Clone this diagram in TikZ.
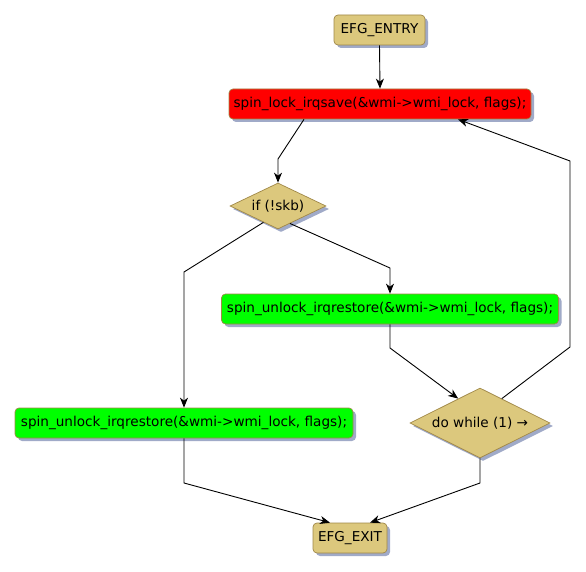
\documentclass[tikz,border=0pt]{standalone}
\usepackage{fontspec}
\setmainfont{DejaVu Sans}
\usetikzlibrary{shapes.geometric,shadows,arrows.meta,calc}
\definecolor{tanfill}{RGB}{220,200,125}
\definecolor{bordc}{RGB}{160,136,72}
\definecolor{shadc}{RGB}{160,170,200}
\definecolor{redf}{RGB}{255,0,0}
\definecolor{greenf}{RGB}{0,255,0}
\tikzset{
  base/.style={draw=bordc, line width=0.7pt, font=\fontsize{13.6}{15}\selectfont, text=black,
    drop shadow={shadow xshift=3pt, shadow yshift=-3pt, fill=shadc, opacity=1}},
  box/.style={base, rectangle, rounded corners=4pt, minimum height=30pt, inner xsep=3pt},
  dia/.style={base, diamond, aspect=2, inner sep=0pt},
  arr/.style={line width=0.9pt, -{Stealth[length=10pt,width=8pt,inset=3pt]}}
}
\begin{document}
\begin{tikzpicture}[x=1pt,y=-1pt]
\useasboundingbox (0,0) rectangle (586,572);
\node[box, fill=tanfill, minimum width=91pt] (entry) at (379.5,30) {EFG\_ENTRY};
\node[box, fill=redf, minimum width=302pt] (lock) at (380,104) {spin\_lock\_irqsave(\&wmi->wmi\_lock, flags);};
\node[dia, fill=tanfill, minimum width=96pt, minimum height=46pt] (if) at (278,206) {if (!skb)};
\node[box, fill=greenf, minimum width=337pt] (un1) at (390,309) {spin\_unlock\_irqrestore(\&wmi->wmi\_lock, flags);};
\node[dia, fill=tanfill, minimum width=140pt, minimum height=70pt] (dw) at (480,423) {do while (1) →};
\node[box, fill=greenf, minimum width=338pt] (un2) at (184,423) {spin\_unlock\_irqrestore(\&wmi->wmi\_lock, flags);};
\node[box, fill=tanfill, minimum width=74pt] (exit) at (350,538) {EFG\_EXIT};

\draw[arr] (entry.south) -- (lock.north);
\draw[arr] ([xshift=-76pt]lock.south) -- (278,159) -- (if.north);
\draw[arr] ($(if.south)!0.3!(if.west)$) -- (184,272) -- (un2.north);
\draw[arr] ($(if.south)!0.25!(if.east)$) -- (390,268) -- (un1.north);
\draw[arr] (un1.south) -- (390,348) -- ($(dw.north)!0.31!(dw.west)$);
\draw[arr] ($(dw.north)!0.31!(dw.east)$) -- (570,347) -- (570,161) -- ([xshift=78pt]lock.south);
\draw[arr] (un2.south) -- (184,483) -- ([xshift=-20pt]exit.north);
\draw[arr] (dw.south) -- (480,483) -- ([xshift=20pt]exit.north);
\end{tikzpicture}
\end{document}
